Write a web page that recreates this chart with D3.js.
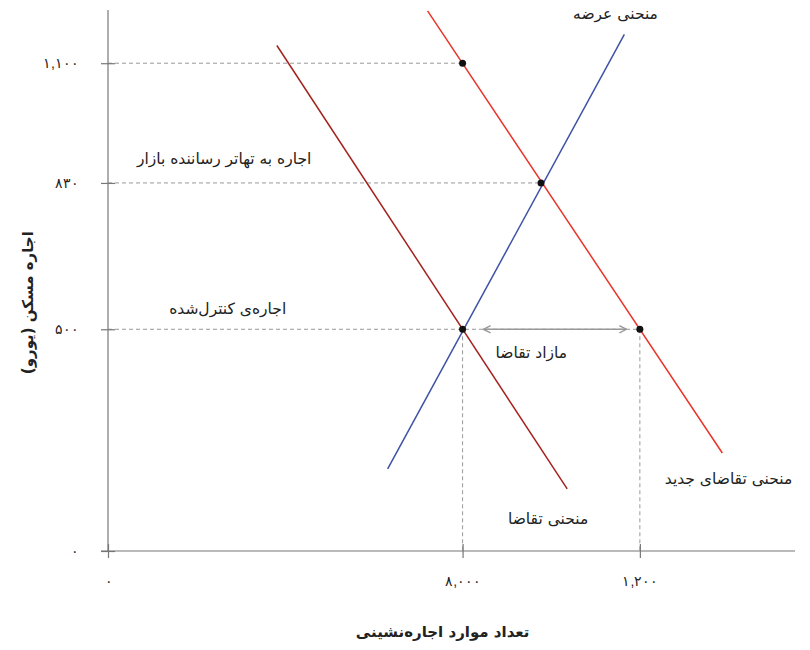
<!DOCTYPE html>
<html lang="fa">
<head>
<meta charset="utf-8">
<script src="https://cdn.jsdelivr.net/npm/d3@7.9.0/dist/d3.min.js"></script>
<style>
  body { margin: 0; background: #fff; }
  svg { font-family: "DejaVu Sans", "Noto Sans", sans-serif; }
</style>
</head>
<body>
<div id="chart"></div>
<script>
// values
const xTicks = [0, 8000, 12000];
const xTickLabels = ["۰", "۸,۰۰۰", "۱,۲۰۰"];
const yTicks = [0, 500, 830, 1100];
const yTickLabels = ["۰", "۵۰۰", "۸۳۰", "۱,۱۰۰"];

const supply = [[6310, 185], [11650, 1165]];
const demand = [[3810, 1140], [10360, 140]];
const newDemand = [[7210, 1218], [13860, 221]];

const points = [[8000, 1100], [9770, 830], [8000, 500], [12000, 500]];
const hGuides = [[1100, 8000], [830, 9770], [500, 12000]];
const vGuides = [[8000, 500], [12000, 500]];
const excess = [8470, 11700, 500];

const labels = [
  { text: "منحنی عرضه", x: 11450, y: 1210 },
  { text: "اجاره به تهاتر رساننده بازار", x: 2620, y: 885 },
  { text: "اجاره‌ی کنترل‌شده", x: 2700, y: 545 },
  { text: "مازاد تقاضا", x: 9550, y: 446 },
  { text: "منحنی تقاضای جدید", x: 14000, y: 163 },
  { text: "منحنی تقاضا", x: 9930, y: 72 },
];

const width = 810;
const height = 650;

const svg = d3.select("#chart").append("svg")
  .attr("width", width)
  .attr("height", height);

const x = d3.scaleLinear().domain([0, 15500]).range([108, 795]);
const y = d3.scaleLinear().domain([0, 1220]).range([551, 10]);

const defs = svg.append("defs");
defs.append("marker")
  .attr("id", "chev")
  .attr("viewBox", "0 0 10 10")
  .attr("refX", 9).attr("refY", 5)
  .attr("markerWidth", 9).attr("markerHeight", 9)
  .attr("markerUnits", "userSpaceOnUse")
  .attr("orient", "auto-start-reverse")
  .append("path")
  .attr("d", "M1,1 L9,5 L1,9")
  .attr("fill", "none")
  .attr("stroke", "#999")
  .attr("stroke-width", 1.6);

// guides
const guides = svg.append("g")
  .attr("stroke", "#999")
  .attr("stroke-width", 1)
  .attr("stroke-dasharray", "4,3");

guides.selectAll(".h").data(hGuides).join("line")
  .attr("x1", x(0)).attr("x2", (d) => x(d[1]))
  .attr("y1", (d) => y(d[0])).attr("y2", (d) => y(d[0]));

guides.selectAll(".v").data(vGuides).join("line")
  .attr("x1", (d) => x(d[0])).attr("x2", (d) => x(d[0]))
  .attr("y1", (d) => y(d[1])).attr("y2", y(0));

// axes
const yAxis = svg.append("g")
  .attr("transform", `translate(${x(0)},0)`)
  .call(d3.axisLeft(y).tickValues(yTicks).tickSize(7)
    .tickFormat((d, i) => yTickLabels[i]).tickPadding(22));
yAxis.select(".domain").attr("d", `M0,${y(1220)}V${y(0)}`);

const xAxis = svg.append("g")
  .attr("transform", `translate(0,${y(0)})`)
  .call(d3.axisBottom(x).tickValues(xTicks).tickSize(7)
    .tickFormat((d, i) => xTickLabels[i]).tickPadding(18));
xAxis.select(".domain").attr("d", `M${x(0) - 7},0H${x(15500)}`);

svg.selectAll(".tick line").each(function () {
  const l = d3.select(this);
  if (l.attr("x2")) l.attr("x1", 7); else l.attr("y1", -7);
});
svg.selectAll(".domain, .tick line").attr("stroke", "#777").attr("stroke-width", 1.2);
svg.selectAll(".tick text").attr("font-size", 14).attr("fill", "#222");

// curves
const line = d3.line().x((d) => x(d[0])).y((d) => y(d[1]));
const curves = [
  [supply, "#3d52a6"],
  [demand, "#a3221d"],
  [newDemand, "#e8352b"],
];
svg.append("g").selectAll("path").data(curves).join("path")
  .attr("d", (d) => line(d[0]))
  .attr("fill", "none")
  .attr("stroke", (d) => d[1])
  .attr("stroke-width", 1.5);

// excess demand arrow
svg.append("line")
  .attr("x1", x(excess[0])).attr("x2", x(excess[1]))
  .attr("y1", y(excess[2])).attr("y2", y(excess[2]))
  .attr("stroke", "#999")
  .attr("stroke-width", 1.6)
  .attr("marker-start", "url(#chev)")
  .attr("marker-end", "url(#chev)");

// points
svg.append("g").selectAll("circle").data(points).join("circle")
  .attr("cx", (d) => x(d[0]))
  .attr("cy", (d) => y(d[1]))
  .attr("r", 3.5)
  .attr("fill", "#111");

// annotations
svg.append("g").selectAll("text").data(labels).join("text")
  .attr("x", (d) => x(d.x))
  .attr("y", (d) => y(d.y))
  .attr("text-anchor", "middle")
  .attr("dominant-baseline", "central")
  .attr("direction", "rtl")
  .attr("font-size", 15.5)
  .attr("fill", "#222")
  .text((d) => d.text);

// axis titles
svg.append("text")
  .attr("transform", `translate(28,${y(560)}) rotate(-90)`)
  .attr("text-anchor", "middle")
  .attr("dominant-baseline", "central")
  .attr("direction", "rtl")
  .attr("font-size", 15)
  .attr("font-weight", "bold")
  .attr("fill", "#222")
  .text("اجاره مسکن (یورو)");

svg.append("text")
  .attr("x", x(7550))
  .attr("y", 632)
  .attr("text-anchor", "middle")
  .attr("dominant-baseline", "central")
  .attr("direction", "rtl")
  .attr("font-size", 15)
  .attr("font-weight", "bold")
  .attr("fill", "#222")
  .text("تعداد موارد اجاره‌نشینی");
</script>
</body>
</html>
